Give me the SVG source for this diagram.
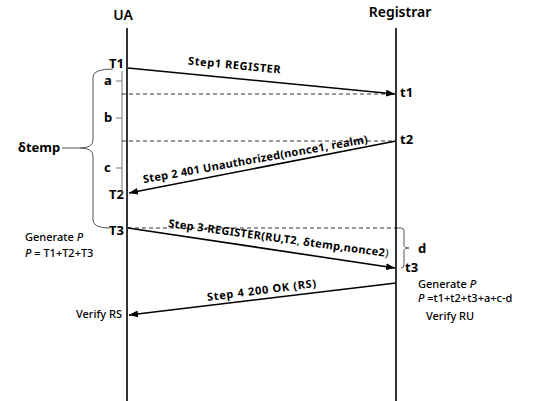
<svg xmlns="http://www.w3.org/2000/svg" width="540" height="401" viewBox="0 0 540 401">
<defs>
<marker id="ah" markerWidth="9" markerHeight="7" refX="9" refY="3.5" orient="auto" markerUnits="userSpaceOnUse">
<path d="M0,0 L9,3.5 L0,7 z" fill="#000"/>
</marker>
<style>
text{font-family:"Noto Sans","Open Sans","Liberation Sans",sans-serif;fill:#000}
.hd{font-size:14px;font-weight:600}
.tm{font-size:13px;font-weight:bold}
.lb{font-size:11px;font-weight:bold}
.nt{font-size:11px;font-weight:500}
.life{stroke:#000;stroke-width:1.6;fill:none}
.msg{stroke:#000;stroke-width:1.6;fill:none;marker-end:url(#ah)}
.dash{stroke:#000;stroke-width:0.8;stroke-dasharray:4,3;fill:none}
.gray{stroke:#777;stroke-width:1;fill:none}
.br{stroke:#555;stroke-width:1;fill:none}
</style>
</defs>
<rect width="540" height="401" fill="#fff"/>

<g id="ua">
<text class="hd" x="123" y="20" text-anchor="middle">UA</text>
<line class="life" x1="127" y1="28" x2="127" y2="401"/>
<text class="tm" x="109" y="68">T1</text>
<text class="tm" x="109" y="199">T2</text>
<text class="tm" x="109" y="235">T3</text>
<text class="nt" x="25" y="241">Generate <tspan font-style="italic">P</tspan></text>
<text class="nt" x="25" y="257"><tspan font-style="italic">P</tspan> = T1+T2+T3</text>
<text class="nt" x="122" y="318" text-anchor="end">Verify RS</text>
</g>

<g id="registrar">
<text class="hd" x="400" y="17" text-anchor="middle">Registrar</text>
<line class="life" x1="396" y1="28" x2="396" y2="401"/>
<text class="tm" x="400" y="97">t1</text>
<text class="tm" x="400" y="144">t2</text>
<text class="tm" x="405" y="272">t3</text>
<text class="nt" x="418" y="288">Generate <tspan font-style="italic">P</tspan></text>
<text class="nt" x="418" y="302"><tspan font-style="italic">P</tspan> =t1+t2+t3+a+c-d</text>
<text class="nt" x="426" y="320" font-weight="600">Verify RU</text>
</g>

<g id="delta-temp">
<path class="br" d="M113,69 Q93,69 93,77 V140 Q93,148 80,148 H62 M80,148 Q93,148 93,156 V220 Q93,228 110,228"/>
<text class="tm" x="18" y="152" font-size="14">δtemp</text>
<line class="gray" x1="122" y1="71" x2="122" y2="195"/>
<line class="gray" x1="116" y1="81" x2="122" y2="81"/>
<line class="gray" x1="116" y1="118" x2="122" y2="118"/>
<line class="gray" x1="116" y1="168" x2="122" y2="168"/>
<text class="tm" x="104" y="85">a</text>
<text class="tm" x="104" y="122">b</text>
<text class="tm" x="104" y="172">c</text>
</g>

<g id="d-interval">
<path class="br" d="M398,228 H401 Q404,228 404,231 V245 Q404,248 409,248 Q404,248 404,251 V265 Q404,268 401,268"/>
<text class="tm" x="418" y="253">d</text>
</g>

<g id="connectors">
<line class="dash" x1="122" y1="94" x2="392" y2="94"/>
<line class="dash" x1="122" y1="141" x2="396" y2="141"/>
<line class="dash" x1="128" y1="228" x2="398" y2="228"/>
<line class="msg" x1="128" y1="68" x2="395" y2="94"/>
<line class="msg" x1="396" y1="141" x2="129" y2="193"/>
<line class="msg" x1="128" y1="228" x2="395" y2="268"/>
<line class="msg" x1="396" y1="283" x2="129" y2="315"/>
<text class="lb" transform="translate(234,69) rotate(5.6)" text-anchor="middle" textLength="93">Step1  REGISTER</text>
<text class="lb" transform="translate(256,163) rotate(-10.2)" text-anchor="middle" textLength="228">Step 2 401 Unauthorized(nonce1,  realm)</text>
<text class="lb" transform="translate(278,242) rotate(7.8)" text-anchor="middle" textLength="222">Step 3-REGISTER(RU,T2<tspan font-weight="normal">, </tspan>δtemp,nonce2<tspan font-weight="normal">)</tspan></text>
<text class="lb" transform="translate(262,294) rotate(-7.3)" text-anchor="middle" textLength="110">Step 4 200 OK  (RS)</text>
</g>
</svg>
